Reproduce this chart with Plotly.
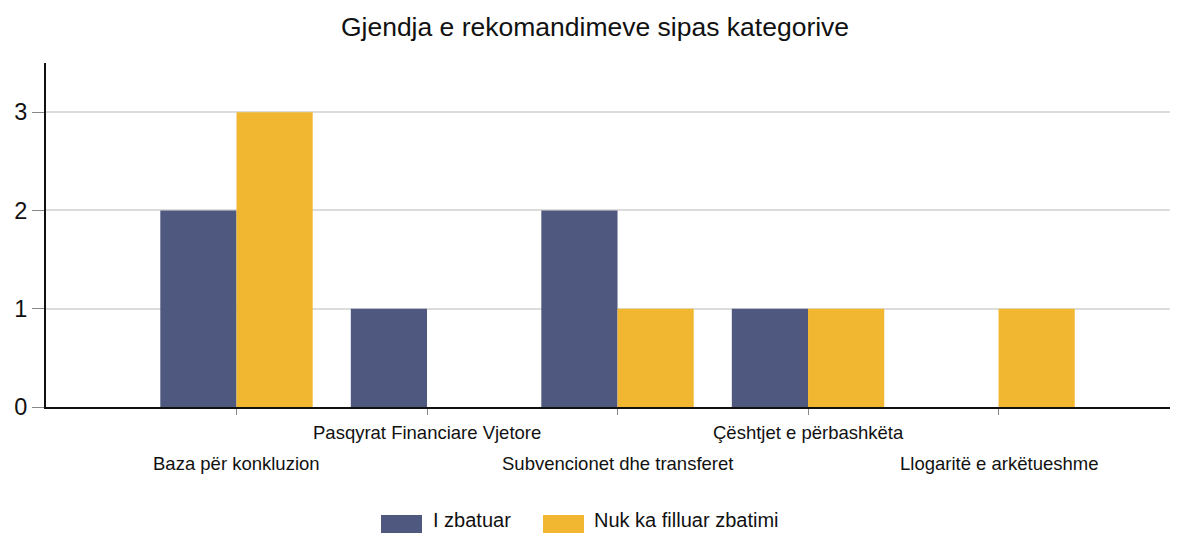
import plotly.graph_objects as go

categories = ["Baza për konkluzion", "Pasqyrat Financiare Vjetore",
              "Subvencionet dhe transferet", "Çështjet e përbashkëta",
              "Llogaritë e arkëtueshme"]
series_names = ["I zbatuar", "Nuk ka filluar zbatimi"]
implemented = [2, 1, 2, 1, 0]
not_started = [3, 0, 1, 1, 1]
y_ticks = [0, 1, 2, 3]
title_text = "Gjendja e rekomandimeve sipas kategorive"

colors = ["#4F587E", "#F2B731"]
FONT = "Liberation Sans, Arial, sans-serif"

# page body has an 8px margin, so the figure is 8px smaller than the window
W, H = 1170, 525
L, R, T, B = 38, 8, 55, 126
PW, PH = W - L - R, H - T - B


def px_x(x):  # figure px -> paper
    return (x - L) / PW


def px_y(y):
    return (H - B - y) / PH


fig = go.Figure()
for name, vals, col in zip(series_names, [implemented, not_started], colors):
    fig.add_trace(go.Bar(x=categories, y=vals, name=name, marker_color=col,
                         marker_line_width=0, showlegend=False))

# staggered category labels
annotations = []
for i, c in enumerate(categories):
    annotations.append(dict(x=c, xref="x", y=px_y(455) if i % 2 == 0 else px_y(425),
                            yref="paper", text=c, showarrow=False,
                            xanchor="center", yanchor="middle",
                            font=dict(family=FONT, size=18.5, color="#111")))

# legend (wide swatches as in the reference)
shapes = []
legend_pos = [(373, 424), (535, 585)]
for (sx, tx), name, col in zip(legend_pos, series_names, colors):
    shapes.append(dict(type="rect", xref="paper", yref="paper",
                       x0=px_x(sx), x1=px_x(sx + 41), y0=px_y(527), y1=px_y(507),
                       fillcolor=col, line_width=0, layer="above"))
    annotations.append(dict(x=px_x(tx), xref="paper", y=px_y(511.5), yref="paper",
                            text=name, showarrow=False, xanchor="left",
                            yanchor="middle", borderpad=0,
                            font=dict(family=FONT, size=20, color="#111")))

fig.update_layout(
    width=W, height=H,
    margin=dict(l=L, r=R, t=T, b=B, autoexpand=False),
    paper_bgcolor="white", plot_bgcolor="white",
    font=dict(family=FONT, color="#111"),
    title=dict(text=title_text, x=587 / W, xanchor="center", y=1 - 19 / H,
               yanchor="middle", yref="container",
               font=dict(family=FONT, size=26.5, color="#111")),
    barmode="group", bargap=0.2, bargroupgap=0,
    showlegend=False,
    annotations=annotations,
    shapes=shapes,
)
fig.update_xaxes(range=[-1, 4.9], showticklabels=False, ticks="outside",
                 ticklen=6, tickcolor="#888", tickwidth=1,
                 showline=True, linecolor="#111", linewidth=2,
                 showgrid=False, zeroline=False, automargin=False)
fig.update_yaxes(range=[0, 3.5], tickvals=y_ticks, ticks="outside",
                 ticklen=12, tickcolor="#888", tickwidth=1,
                 showline=True, linecolor="#111", linewidth=2,
                 gridcolor="#DCDCDC", gridwidth=2, zeroline=False,
                 automargin=False,
                 tickfont=dict(family=FONT, size=23.5, color="#111"))

fig.write_html("out.html")
